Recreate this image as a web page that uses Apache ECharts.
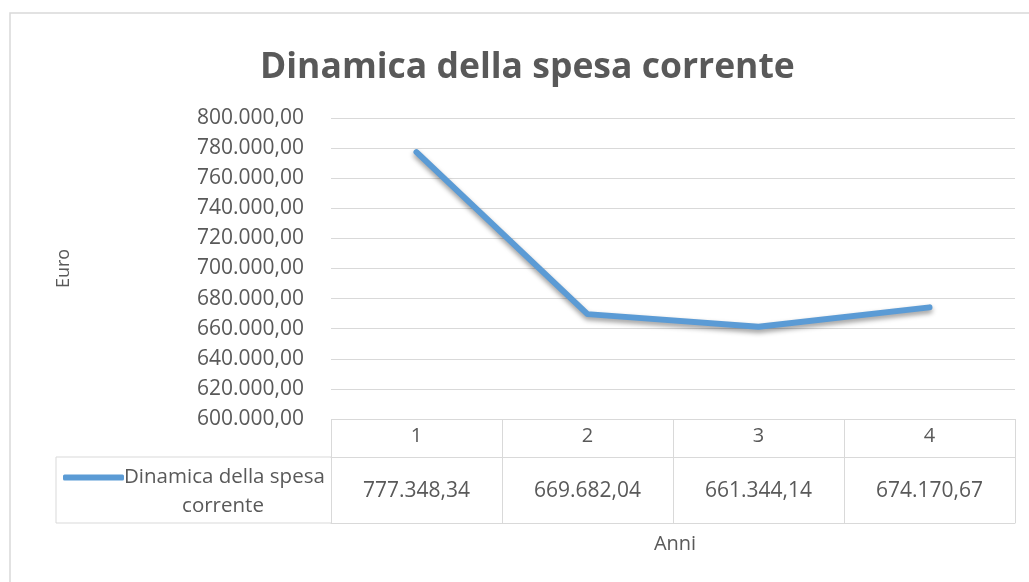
<!DOCTYPE html>
<html><head><meta charset="utf-8">
<script src="https://cdn.jsdelivr.net/npm/echarts@6/dist/echarts.min.js"></script>
<style>html,body{margin:0;padding:0;background:#fff}#c{width:1029px;height:582px}</style>
</head><body><div id="c"></div>
<script>
const titleText = 'Dinamica della spesa corrente';
const seriesName = 'Dinamica della spesa corrente';
const categories = ['1', '2', '3', '4'];
const values = [777348.34, 669682.04, 661344.14, 674170.67];
const yMin = 600000, yMax = 800000, yStep = 20000;
const yName = 'Euro';
const xName = 'Anni';

function fmtIt(v) {
  const neg = v < 0; v = Math.abs(v);
  let [i, d] = v.toFixed(2).split('.');
  i = i.replace(/\B(?=(\d{3})+(?!\d))/g, '.');
  return (neg ? '-' : '') + i + ',' + d;
}

const TXT = '#595959', GRID = '#d9d9d9', LINE = '#5B9BD5';
const FONT = '"Open Sans", sans-serif';
const chart = echarts.init(document.getElementById('c'));
chart.setOption({
  backgroundColor: '#fff',
  animation: false,
  title: {
    text: titleText, left: 255, top: 45,
    textStyle: { fontFamily: FONT, fontSize: 35.5, fontWeight: 'bold', color: TXT }
  },
  legend: {
    left: 58, top: 462, icon: 'roundRect', itemWidth: 61, itemHeight: 6, itemGap: 0,
    data: [seriesName],
    formatter: () => 'Dinamica della spesa',
    textStyle: { fontFamily: FONT, fontSize: 20.5, color: TXT, padding: [0, 0, 0, -5] }
  },
  grid: [
    { left: 331, right: 14, top: 118, height: 301 },
    { left: 331, right: 14, top: 419, height: 38 },
    { left: 331, right: 14, top: 457, height: 66 }
  ],
  xAxis: [
    { gridIndex: 0, type: 'category', data: categories, boundaryGap: true,
      axisLine: { show: false }, axisTick: { show: false }, axisLabel: { show: false } },
    { gridIndex: 1, type: 'category', data: categories, position: 'top', boundaryGap: true,
      axisLine: { show: true, lineStyle: { color: GRID, width: 1 } }, axisTick: { show: false },
      splitLine: { show: true, interval: 0, lineStyle: { color: GRID, width: 1 } },
      axisLabel: { inside: true, margin: 7, fontFamily: FONT, fontSize: 20, color: TXT } },
    { gridIndex: 2, type: 'category', data: categories, position: 'bottom', boundaryGap: true,
      axisLine: { show: true, lineStyle: { color: GRID, width: 1 } }, axisTick: { show: false },
      splitLine: { show: true, interval: 0, lineStyle: { color: GRID, width: 1 } },
      axisLabel: { inside: true, margin: 21, fontFamily: FONT, fontSize: 21, color: TXT,
        formatter: (v, i) => fmtIt(values[i]) },
      name: xName, nameLocation: 'middle', nameGap: 11,
      nameTextStyle: { fontFamily: FONT, fontSize: 20, color: TXT, verticalAlign: 'top', padding: [0, 0, 0, 4] } }
  ],
  yAxis: [
    { gridIndex: 0, type: 'value', min: yMin, max: yMax, interval: yStep,
      axisLine: { show: false }, axisTick: { show: false },
      splitLine: { show: true, lineStyle: { color: GRID, width: 1 } },
      axisLabel: { margin: 27, fontFamily: FONT, fontSize: 21, color: TXT, formatter: v => fmtIt(v) },
      name: yName, nameLocation: 'middle', nameGap: 258, nameRotate: 90,
      nameTextStyle: { fontFamily: FONT, fontSize: 18, color: TXT } },
    { gridIndex: 1, type: 'value', show: false },
    { gridIndex: 2, type: 'value', show: false }
  ],
  series: [{
    name: seriesName, type: 'line', xAxisIndex: 0, yAxisIndex: 0, data: values,
    symbol: 'none', smooth: false,
    itemStyle: { color: LINE },
    lineStyle: { color: LINE, width: 6, cap: 'round', join: 'round',
      shadowColor: 'rgba(0,0,0,0.4)', shadowBlur: 5, shadowOffsetY: 3 }
  }],
  graphic: [
    { type: 'rect', shape: { x: 10, y: 13, width: 1040, height: 620 }, silent: true, z: -10,
      style: { fill: 'none', stroke: GRID, lineWidth: 1.5 } },
    { type: 'polyline', shape: { points: [[331, 457], [56, 457], [56, 523], [331, 523]] }, silent: true,
      style: { fill: 'none', stroke: GRID, lineWidth: 1 } },
    { type: 'text', x: 223, y: 506, silent: true,
      style: { text: 'corrente', fontFamily: FONT, fontSize: 20.5, fill: TXT, align: 'center', verticalAlign: 'middle' } }
  ]
});
</script></body></html>
